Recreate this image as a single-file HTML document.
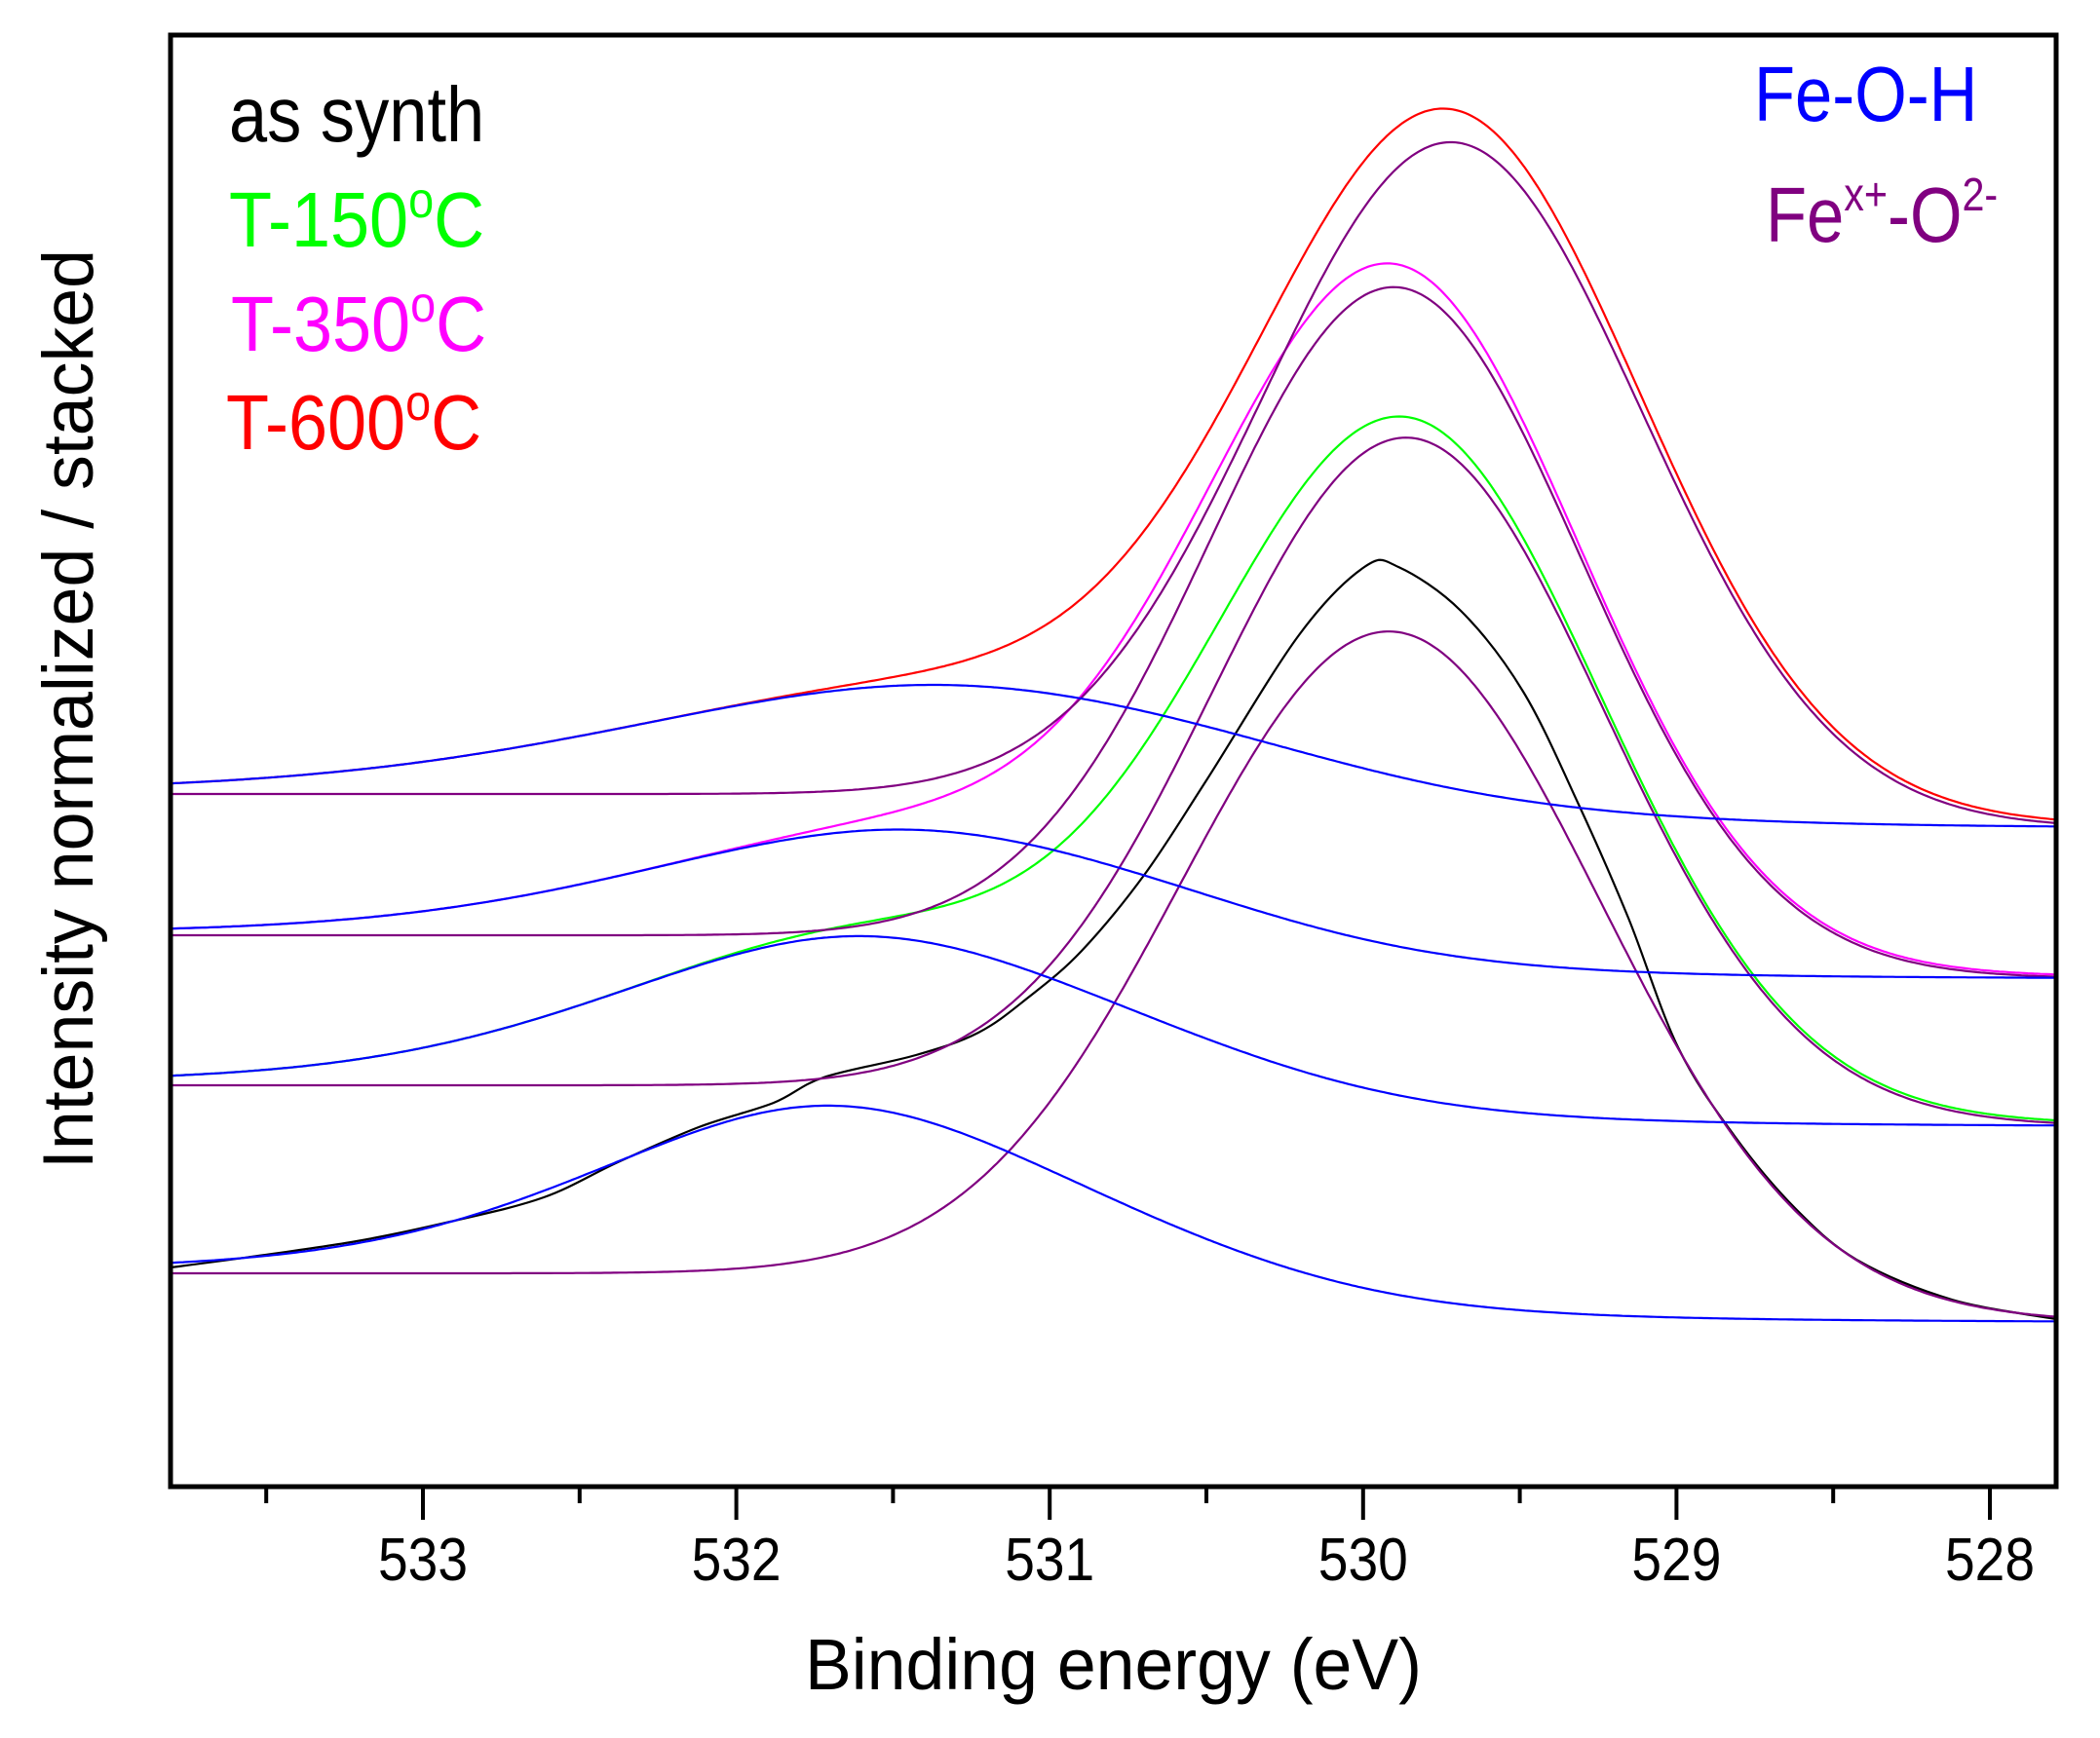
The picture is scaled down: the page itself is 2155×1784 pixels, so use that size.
<!DOCTYPE html>
<html><head><meta charset="utf-8"><style>
html,body{margin:0;padding:0;background:#fff;}
svg{display:block;font-family:"Liberation Sans",Arial,sans-serif;}
</style></head><body>
<svg id="chart" width="2155" height="1784" viewBox="0 0 2155 1784" xmlns="http://www.w3.org/2000/svg">
<rect x="0" y="0" width="2155" height="1784" fill="#fff"/>
<g id="curves"></g>
<rect x="175" y="36" width="1935" height="1490" fill="none" stroke="#000" stroke-width="5"/>
<g id="ticks"></g>
<text x="826" y="1734" font-size="74" textLength="633" lengthAdjust="spacingAndGlyphs">Binding energy (eV)</text>
<text transform="translate(95,1200) rotate(-90)" x="0" y="0" font-size="73" textLength="944" lengthAdjust="spacingAndGlyphs">Intensity normalized / stacked</text>
<g>
<text transform="translate(235,145) scale(0.88,1)" font-size="80" fill="#000">as synth</text>
<text transform="translate(235,253) scale(0.9,1)" font-size="80" fill="#00ff00">T-150<tspan font-size="52" dy="-30">o</tspan><tspan dy="30">C</tspan></text>
<text transform="translate(237,360) scale(0.9,1)" font-size="80" fill="#ff00ff">T-350<tspan font-size="52" dy="-30">o</tspan><tspan dy="30">C</tspan></text>
<text transform="translate(232,461) scale(0.9,1)" font-size="80" fill="#ff0000">T-600<tspan font-size="52" dy="-30">o</tspan><tspan dy="30">C</tspan></text>
</g>
<g>
<text transform="translate(1800,124) scale(0.86,1)" font-size="80" fill="#0000ff">Fe-O-H</text>
<text transform="translate(1812,248) scale(0.86,1)" font-size="80" fill="#800080">Fe<tspan font-size="48" dy="-32">x+</tspan><tspan dy="32">-O</tspan><tspan font-size="48" dy="-32">2-</tspan></text>
</g>
</svg>
<script>
// ---- data ----
const samples = ['as-synth', 't150', 't350', 't600'];
const bgLeft = [242, 435, 589, 734];
const bgRight = [190, 391, 543, 697];
const oxCenter = [529.90, 529.85, 529.89, 529.71];
const oxHeight = [698, 698, 700, 697];
const oxFwhm = [1.58, 1.47, 1.40, 1.43];
const ohCenter = [531.70, 531.60, 531.46, 531.35];
const ohHeight = [173, 154, 110, 113];
const ohFwhm = [1.8, 1.9, 2.0, 2.4];
// raw as-synth spectrum (black)
const rawE = [533.805,533.547,533.211,532.913,532.614,532.378,532.120,531.881,531.722,531.427,531.228,531.069,530.898,530.696,530.500,530.205,529.996,529.887,529.688,529.489,529.312,529.154,528.995,528.815,528.619,528.420,528.121,527.789];
const rawI = [248,259,275,295,320,356,392,417,443,466,489,525,573,652,748,897,967,967,922,839,723,607,474,383,308,255,215,195];
const tickValues = [533, 532, 531, 530, 529, 528];
const tickLabels = ['533', '532', '531', '530', '529', '528'];
const minorTicks = [533.5, 532.5, 531.5, 530.5, 529.5, 528.5];
const sumColors = ['#000000', '#00ff00', '#ff00ff', '#ff0000'];

// ---- axes ----
const X0 = 175, X1 = 2110, AXIS_Y = 1526, BASE = 1549;
function xScale(e) { return 434 + (533 - e) * 321.6; }
function yScale(v) { return BASE - v; }
const EMIN = 533 - (X1 - 434) / 321.6, EMAX = 533 + (434 - X0) / 321.6;

function gauss(e, c, h, w) { return h * Math.exp(-4 * Math.LN2 * Math.pow((e - c) / w, 2)); }
function lor(e, c, h, w) { return h / (1 + 4 * Math.pow((e - c) / w, 2)); }
function bg(i, e) {
  const s = 1 / (1 + Math.exp(-(e - (oxCenter[i] + 0.4)) / 0.35));
  return bgRight[i] + (bgLeft[i] - bgRight[i]) * s;
}
function ox(i, e) {
  const m = e < oxCenter[i] ? 0.03 : 0;
  return (1 - m) * gauss(e, oxCenter[i], oxHeight[i], oxFwhm[i]) + m * lor(e, oxCenter[i], oxHeight[i], oxFwhm[i]);
}
function oh(i, e) {
  return 0.7 * gauss(e, ohCenter[i], ohHeight[i], ohFwhm[i]) + 0.3 * lor(e, ohCenter[i], ohHeight[i], ohFwhm[i]);
}
const NS = 'http://www.w3.org/2000/svg';
const curves = document.getElementById('curves');
function pathFrom(fn) {
  let d = '';
  const n = 600;
  for (let k = 0; k <= n; k++) {
    const e = EMAX - (EMAX - EMIN) * k / n;
    d += (k ? 'L' : 'M') + xScale(e).toFixed(1) + ',' + yScale(fn(e)).toFixed(1);
  }
  return d;
}
function smoothPath(pts) {
  let d = 'M' + pts[0][0].toFixed(1) + ',' + pts[0][1].toFixed(1);
  for (let k = 0; k < pts.length - 1; k++) {
    const p0 = pts[Math.max(0, k - 1)], p1 = pts[k], p2 = pts[k + 1], p3 = pts[Math.min(pts.length - 1, k + 2)];
    const c1x = p1[0] + (p2[0] - p0[0]) / 6, c1y = p1[1] + (p2[1] - p0[1]) / 6;
    const c2x = p2[0] - (p3[0] - p1[0]) / 6, c2y = p2[1] - (p3[1] - p1[1]) / 6;
    d += 'C' + c1x.toFixed(1) + ',' + c1y.toFixed(1) + ' ' + c2x.toFixed(1) + ',' + c2y.toFixed(1) + ' ' + p2[0].toFixed(1) + ',' + p2[1].toFixed(1);
  }
  return d;
}
function addPath(d, color, name) {
  const p = document.createElementNS(NS, 'path');
  p.setAttribute('d', d);
  p.setAttribute('fill', 'none');
  p.setAttribute('stroke', color);
  p.setAttribute('stroke-width', '2.2');
  
  
  curves.appendChild(p);
}
for (let i = 0; i < samples.length; i++) {
  let d;
  if (i === 0) {
    d = smoothPath(rawE.map((e, k) => [xScale(e), yScale(rawI[k])]));
  } else {
    d = pathFrom(e => bg(i, e) + ox(i, e) + oh(i, e));
  }
  addPath(d, sumColors[i], 'spectrum-' + samples[i]);
}
for (let i = 0; i < samples.length; i++) {
  addPath(pathFrom(e => bg(i, e) + ox(i, e)), '#800080', 'oxide-component-' + samples[i]);
}
for (let i = 0; i < samples.length; i++) {
  addPath(pathFrom(e => bg(i, e) + oh(i, e)), '#0000ff', 'feoh-component-' + samples[i]);
}
// ticks
const ticks = document.getElementById('ticks');
tickValues.forEach((t, k) => {
  const x = xScale(t);
  const l = document.createElementNS(NS, 'line');
  l.setAttribute('x1', x); l.setAttribute('x2', x);
  l.setAttribute('y1', AXIS_Y); l.setAttribute('y2', AXIS_Y + 34);
  l.setAttribute('stroke', '#000'); l.setAttribute('stroke-width', '4');
  
  
  ticks.appendChild(l);
  const tx = document.createElementNS(NS, 'text');
  tx.setAttribute('x', x - 46); tx.setAttribute('y', 1622);
  tx.setAttribute('font-size', '62');
  tx.setAttribute('textLength', '92');
  tx.setAttribute('lengthAdjust', 'spacingAndGlyphs');
  tx.textContent = tickLabels[k];
  
  
  ticks.appendChild(tx);
});
minorTicks.forEach(t => {
  const x = xScale(t);
  const l = document.createElementNS(NS, 'line');
  l.setAttribute('x1', x); l.setAttribute('x2', x);
  l.setAttribute('y1', AXIS_Y); l.setAttribute('y2', AXIS_Y + 17);
  l.setAttribute('stroke', '#000'); l.setAttribute('stroke-width', '4');
  
  
  ticks.appendChild(l);
});
</script>
</body></html>
